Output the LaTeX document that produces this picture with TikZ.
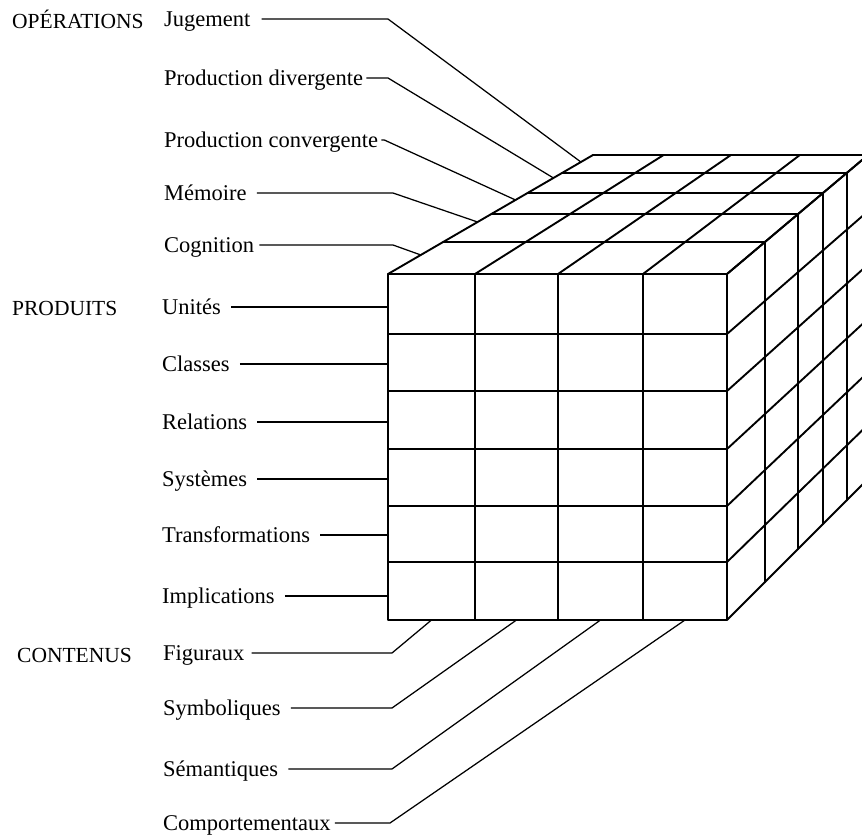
\documentclass[tikz,border=0pt]{standalone}
\usepackage{fontspec}
\setmainfont{Liberation Serif}
\usetikzlibrary{calc}
\begin{document}
\begin{tikzpicture}[x=1pt,y=-1pt,
  edge/.style={line width=1.9pt,line cap=round,line join=round},
  leader/.style={line width=1.25pt,line join=round},
  lab/.style={anchor=west,inner sep=0pt,text height=14pt,text depth=0pt,
    font=\fontsize{22.5}{27}\selectfont},
  cat/.style={anchor=base west,inner sep=0pt,font=\fontsize{21.5}{26}\selectfont}]
\useasboundingbox (0,0) rectangle (862,836);

% grid points of the cube: layer k (front = 0, back = 5),
% c-k-i along the top edge (columns), r-k-j down the right edge (rows)
\foreach \k/\t in {0/0,1/0.269,2/0.504,3/0.681,4/0.849,5/1}{
  \pgfmathsetmacro\Lx{388+205*\t}
  \pgfmathsetmacro\Rx{727+141*\t}
  \pgfmathsetmacro\Ty{274-119*\t}
  \pgfmathsetmacro\By{620-141*\t}
  \foreach \i/\u in {0/0,1/0.2566,2/0.5015,3/0.7522,4/1}
    \coordinate (c-\k-\i) at ({\Lx+\u*(\Rx-\Lx)},\Ty);
  \foreach \j/\v in {0/0,1/0.1734,2/0.3382,3/0.5058,4/0.6705,5/0.8324,6/1}
    \coordinate (r-\k-\j) at (\Rx,{\Ty+\v*(\By-\Ty)});
}

\begin{scope}
\clip (0,0) rectangle (862,836);
% front face
\draw[edge] (c-0-0) rectangle (r-0-6);
\foreach \i in {1,2,3} \draw[edge] (c-0-\i) -- (c-0-\i |- r-0-6);
\foreach \j in {1,...,5} \draw[edge] (r-0-\j -| c-0-0) -- (r-0-\j);
% top face
\foreach \k in {1,...,5} \draw[edge] (c-\k-0) -- (c-\k-4);
\foreach \i in {0,...,4} \draw[edge] (c-0-\i) -- (c-5-\i);
% right face
\foreach \k in {1,...,5} \draw[edge] (r-\k-0) -- (r-\k-6);
\foreach \j in {0,...,6} \draw[edge] (r-0-\j) -- (r-5-\j);
\end{scope}

% leader targets
\coordinate (o-1) at ($(c-0-0)!0.16!(c-5-0)$);
\coordinate (o-2) at ($(c-0-0)!0.437!(c-5-0)$);
\coordinate (o-3) at ($(c-0-0)!0.622!(c-5-0)$);
\coordinate (o-4) at ($(c-0-0)!0.807!(c-5-0)$);
\coordinate (o-5) at ($(c-0-0)!0.941!(c-5-0)$);
\foreach \i/\n in {0/1,1/2,2/3,3/4}
  \coordinate (m-\n) at ($(c-0-\i |- r-0-6)!0.5!(c-0-\n |- r-0-6)$);

% category headings
\node[cat] (hops) at (12,28) {OPÉRATIONS};
\node[cat] (hprod) at (12,315) {PRODUITS};
\node[cat] (hcont) at (17,662) {CONTENUS};

% operations
\node[lab] (jug) at (164,19) {Jugement};
\node[lab] (pdiv) at (164,78) {Production divergente};
\node[lab] (pconv) at (164,140) {Production convergente};
\node[lab] (mem) at (164,193) {Mémoire};
\node[lab] (cog) at (164,245) {Cognition};
\draw[leader] ([xshift=11pt]jug.east) -- (jug.east -| c-0-0) -- (o-5);
\draw[leader] ([xshift=3pt]pdiv.east) -- (pdiv.east -| c-0-0) -- (o-4);
\draw[leader] ([xshift=3pt]pconv.east) -- ([xshift=6pt]pconv.east) -- (o-3);
\draw[leader] ([xshift=10pt]mem.east) -- ([xshift=5pt]mem.east -| c-0-0) -- (o-2);
\draw[leader] ([xshift=5pt]cog.east) -- ([xshift=5pt]cog.east -| c-0-0) -- (o-1);

% products
\node[lab] (uni) at (162,307) {Unités};
\node[lab] (cla) at (162,364) {Classes};
\node[lab] (rel) at (162,422) {Relations};
\node[lab] (sys) at (162,479) {Systèmes};
\node[lab] (tra) at (162,535) {Transformations};
\node[lab] (imp) at (162,596) {Implications};
\foreach \n in {uni,cla,rel,sys,tra,imp}
  \draw[leader] ([xshift=10pt]\n.east) -- (\n.east -| c-0-0);

% contents
\node[lab] (fig) at (163,653) {Figuraux};
\node[lab] (sym) at (163,708) {Symboliques};
\node[lab] (sem) at (163,769) {Sémantiques};
\node[lab] (com) at (163,823) {Comportementaux};
\draw[leader] ([xshift=7pt]fig.east) -- ([xshift=4pt]fig.east -| c-0-0) -- (m-1);
\draw[leader] ([xshift=10pt]sym.east) -- ([xshift=4pt]sym.east -| c-0-0) -- (m-2);
\draw[leader] ([xshift=10pt]sem.east) -- ([xshift=4pt]sem.east -| c-0-0) -- (m-3);
\draw[leader] ([xshift=4pt]com.east) -- ([xshift=2pt]com.east -| c-0-0) -- (m-4);
\end{tikzpicture}
\end{document}
